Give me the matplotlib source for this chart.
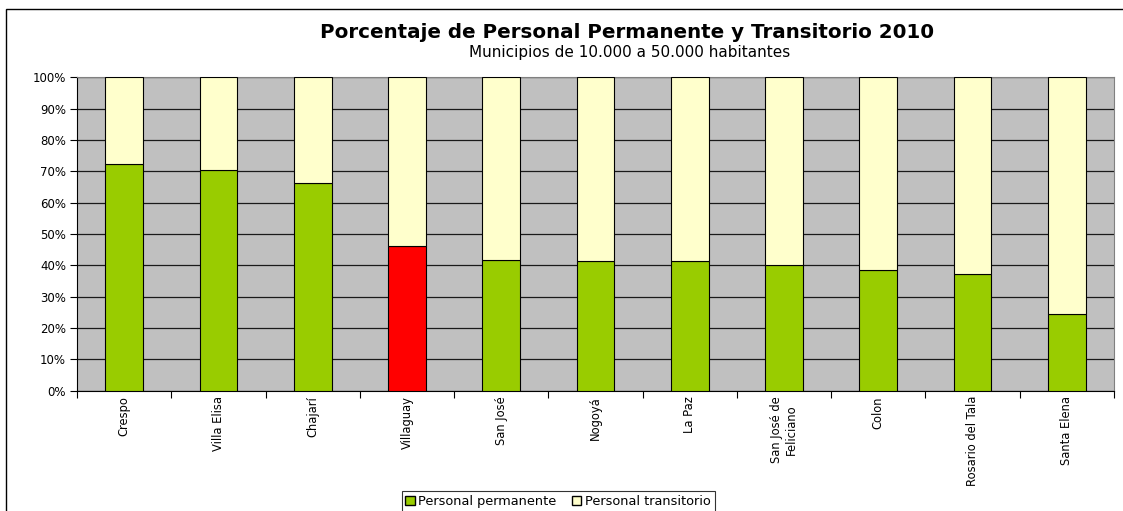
import matplotlib.pyplot as plt
from matplotlib.patches import Rectangle, Patch
import numpy as np

municipios = ['Crespo', 'Villa Elisa', 'Chajarí', 'Villaguay', 'San José', 'Nogoyá',
              'La Paz', 'San José de\nFeliciano', 'Colon', 'Rosario del Tala', 'Santa Elena']
permanente = [72.4, 70.4, 66.2, 46.2, 41.8, 41.2, 41.2, 40.2, 38.6, 37.2, 24.5]
transitorio = [100 - p for p in permanente]
destacado = 'Villaguay'

plt.rcParams['font.family'] = ['DejaVu Sans']

fig = plt.figure(figsize=(11.23, 5.11), dpi=100)
fig.patch.set_facecolor('white')
ax = fig.add_axes([77 / 1123, 1 - 390.5 / 511, (1114 - 77) / 1123, (390.5 - 77.3) / 511])
ax.set_facecolor('#C0C0C0')

x = np.arange(len(municipios))
colores = ['#FF0000' if m == destacado else '#99CC00' for m in municipios]
ax.bar(x, permanente, width=0.4, color=colores, edgecolor='black', linewidth=0.8, zorder=3)
ax.bar(x, transitorio, width=0.4, bottom=permanente, color='#FFFFCC', edgecolor='black',
       linewidth=0.8, zorder=3)

ax.set_ylim(0, 100)
ax.set_xlim(-0.5, len(municipios) - 0.5)
ax.set_yticks(np.arange(0, 101, 10))
ax.set_yticklabels([f'{v}%' for v in range(0, 101, 10)], fontsize=8.5)
ax.yaxis.grid(True, color='#1a1a1a', linewidth=0.9, zorder=1)
ax.set_axisbelow(True)

ax.set_xticks(np.arange(-0.5, len(municipios), 1.0))
ax.set_xticklabels([])
ax.set_xticks(x, minor=True)
ax.set_xticklabels(municipios, minor=True, rotation=90, fontsize=8.3, va='top',
                   ha='center', multialignment='center')
ax.tick_params(axis='x', which='minor', length=0, pad=4)
ax.tick_params(axis='x', which='major', length=5, direction='out', color='black')
ax.tick_params(axis='y', length=5, direction='out', color='black', pad=3)

for s in ['left', 'bottom']:
    ax.spines[s].set_color('black')
for s in ['top', 'right']:
    ax.spines[s].set_color('#808080')

fig.text(0.558, 1 - 32 / 511, 'Porcentaje de Personal Permanente y Transitorio 2010',
         ha='center', va='center', fontsize=14.3, fontweight='bold')
fig.text(0.561, 1 - 52 / 511, 'Municipios de 10.000 a 50.000 habitantes',
         ha='center', va='center', fontsize=11)

handles = [Patch(facecolor='#99CC00', edgecolor='black', label='Personal permanente'),
           Patch(facecolor='#FFFFCC', edgecolor='black', label='Personal transitorio')]
leg = fig.legend(handles=handles, loc='lower center', bbox_to_anchor=(0.497, -0.014), ncol=2,
                 fontsize=9.3, frameon=True, fancybox=False, edgecolor='black',
                 handlelength=0.7, handleheight=0.7, handletextpad=0.3, columnspacing=1.2,
                 borderpad=0.3)
leg.get_frame().set_linewidth(0.8)

fig.patches.append(Rectangle((6 / 1123, -0.1), 1.2, (511 - 9) / 511 + 0.1,
                             transform=fig.transFigure, fill=False, edgecolor='black',
                             linewidth=1))

fig.savefig('out.png', dpi=100)
